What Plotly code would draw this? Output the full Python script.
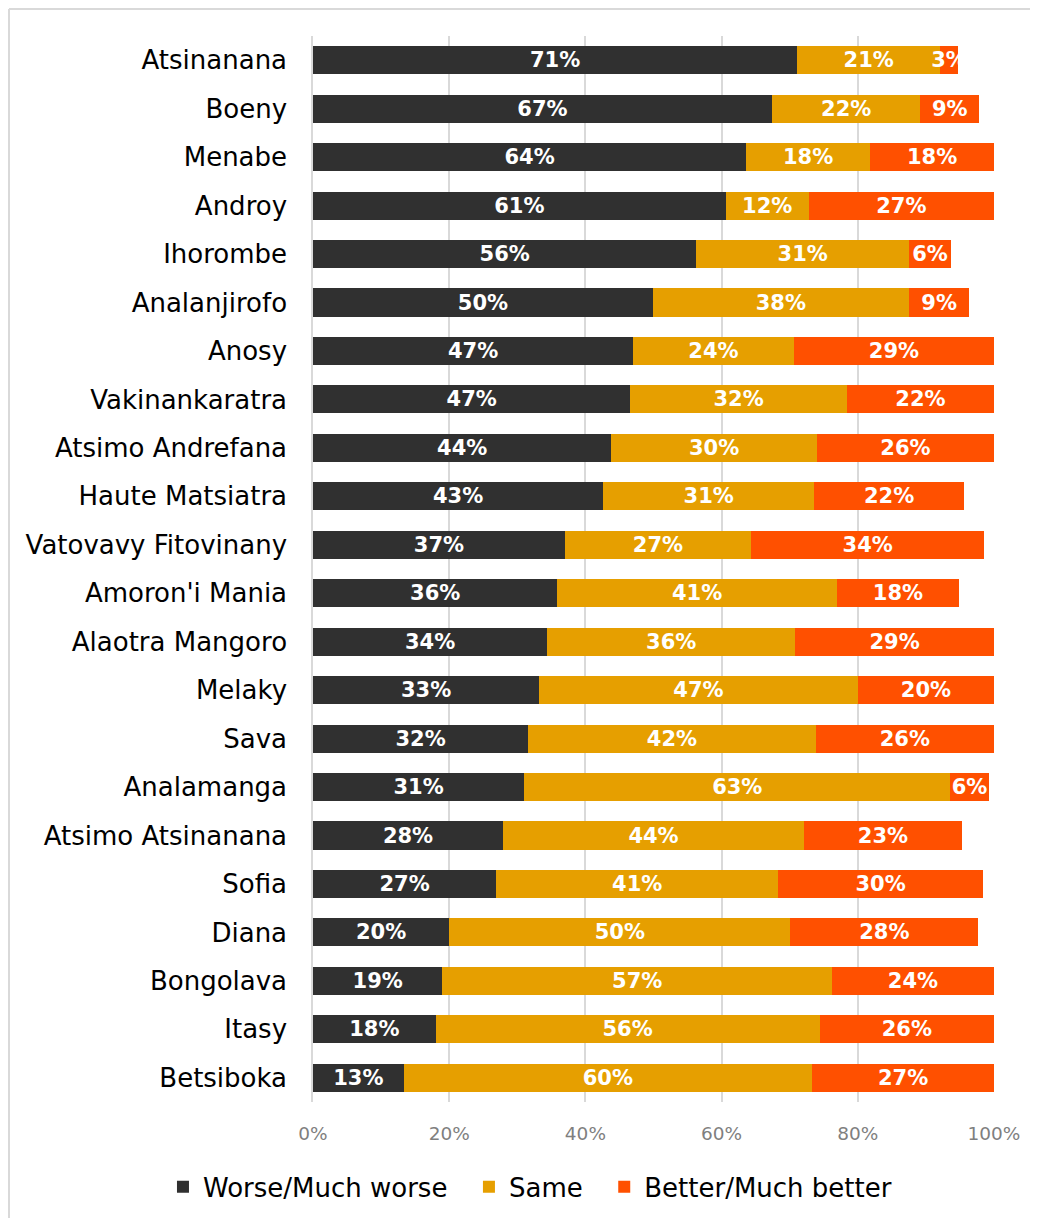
import plotly.graph_objects as go

# regions, top to bottom
regions = [
    "Atsinanana", "Boeny", "Menabe", "Androy", "Ihorombe", "Analanjirofo",
    "Anosy", "Vakinankaratra", "Atsimo Andrefana", "Haute Matsiatra",
    "Vatovavy Fitovinany", "Amoron'i Mania", "Alaotra Mangoro", "Melaky",
    "Sava", "Analamanga", "Atsimo Atsinanana", "Sofia", "Diana",
    "Bongolava", "Itasy", "Betsiboka",
]

# shares in percent
worse = [71.1, 67.4, 63.6, 60.6, 56.3, 49.9, 47.0, 46.6, 43.8, 42.6, 37.0,
         35.9, 34.4, 33.2, 31.6, 31.0, 27.9, 26.9, 20.0, 19.0, 18.0, 13.3]
same = [21.0, 21.8, 18.2, 12.2, 31.2, 37.6, 23.6, 31.8, 30.2, 31.0, 27.3,
        41.0, 36.4, 46.8, 42.2, 62.6, 44.2, 41.4, 50.1, 57.2, 56.4, 60.0]
better = [2.6, 8.6, 18.2, 27.2, 6.2, 8.9, 29.4, 21.6, 26.0, 22.0, 34.3,
          18.0, 29.2, 20.0, 26.2, 5.6, 23.2, 30.1, 27.6, 23.8, 25.6, 26.7]

series = [
    ("Worse/Much worse", worse, "#303030"),
    ("Same", same, "#E69F00"),
    ("Better/Much better", better, "#FF5000"),
]

FONT = "DejaVu Sans"
PAD = "\u00a0\u00a0"  # a bit more room between legend entries

fig = go.Figure()
for name, vals, color in series:
    fig.add_trace(go.Bar(
        y=regions,
        x=[v / 100 for v in vals],
        orientation="h",
        name=name + PAD,
        marker=dict(color=color, line=dict(width=0)),
        text=[f"{int(v + 0.5)}%" for v in vals],
        textposition="inside",
        insidetextanchor="middle",
        textangle=0,
        constraintext="none",
        insidetextfont=dict(family=FONT, size=21, color="white", weight="bold"),
        hovertemplate="%{y}: %{text}<extra>" + name + "</extra>",
    ))

# light frame round the chart area (only top and left show in the picture)
frame = dict(type="line", xref="paper", yref="paper",
             line=dict(color="#D9D9D9", width=2), layer="below")
shapes = [
    dict(frame, x0=-0.4464, x1=-0.4464, y0=-0.2, y1=1.0253),
    dict(frame, x0=-0.4464, x1=1.2, y0=1.0253, y1=1.0253),
]

fig.update_layout(
    barmode="stack",
    bargap=0.42,
    width=1038,
    height=1218,
    margin=dict(l=305, r=52, t=28, b=124),
    paper_bgcolor="white",
    plot_bgcolor="white",
    font=dict(family=FONT, color="#000000"),
    showlegend=True,
    legend=dict(
        orientation="h",
        x=-0.2203, xanchor="left",
        y=-0.0797, yanchor="middle",
        font=dict(family=FONT, size=26, color="#000000"),
        itemwidth=30,
        traceorder="normal",
    ),
    shapes=shapes,
)

fig.update_xaxes(
    range=[0, 1],
    dtick=0.2,
    tickformat=".0%",
    showgrid=True,
    gridcolor="#D9D9D9",
    gridwidth=1.5,
    zeroline=False,
    showline=False,
    tickfont=dict(family=FONT, size=18.5, color="#7F7F7F"),
    ticklabelstandoff=18,
    fixedrange=True,
)
fig.update_yaxes(
    autorange="reversed",
    showgrid=False,
    showline=True,
    linecolor="#D9D9D9",
    linewidth=1.5,
    tickfont=dict(family=FONT, size=26, color="#000000"),
    ticklabelstandoff=19,
    fixedrange=True,
)

fig.write_html("out.html")
